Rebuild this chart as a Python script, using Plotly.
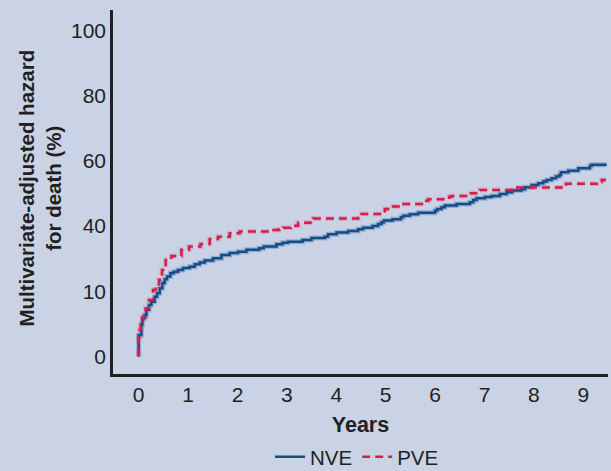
import plotly.graph_objects as go

# Step-curve data (years, hazard on the drawn linear scale)
nve_years = [0, 0, 0.055, 0.075, 0.122, 0.156, 0.209, 0.257, 0.324, 0.371, 0.425, 0.480,
             0.527, 0.573, 0.642, 0.709, 0.796, 0.897, 1.033, 1.134, 1.236, 1.337, 1.505,
             1.675, 1.843, 2.011, 2.181, 2.437, 2.532, 2.789, 2.911, 3.024, 3.316, 3.498,
             3.767, 3.834, 4.005, 4.240, 4.442, 4.543, 4.734, 4.847, 4.916, 4.963, 5.139,
             5.307, 5.354, 5.489, 5.657, 5.996, 6.042, 6.131, 6.198, 6.435, 6.705, 6.771,
             6.840, 7.008, 7.144, 7.312, 7.448, 7.561, 7.752, 7.819, 7.954, 8.088, 8.189,
             8.258, 8.359, 8.446, 8.513, 8.548, 8.696, 8.898, 9.135, 9.170, 9.473]
nve_hazard = [0, 6.6, 9.7, 11.7, 12.7, 14.3, 15.8, 16.8, 18.3, 19.4, 20.9, 22.5,
              23.7, 24.5, 25.5, 26.0, 26.5, 27.1, 27.5, 28.3, 28.8, 29.4, 30.1,
              31.1, 31.7, 32.1, 32.7, 33.2, 33.7, 34.4, 34.9, 35.2, 35.7, 36.3,
              36.7, 37.5, 38.0, 38.5, 39.0, 39.5, 40.0, 40.6, 41.2, 41.7, 42.1,
              42.7, 43.2, 43.6, 44.1, 44.7, 45.2, 45.8, 46.3, 46.8, 47.3, 48.0,
              48.5, 48.9, 49.2, 49.8, 50.4, 50.9, 51.3, 51.9, 52.6, 53.1, 53.7,
              54.1, 54.7, 55.2, 55.7, 56.5, 57.0, 57.7, 58.5, 58.8, 58.8]

pve_years = [0, 0, 0.020, 0.041, 0.087, 0.142, 0.209, 0.290, 0.344, 0.411, 0.472, 0.547,
             0.662, 0.865, 1.019, 1.250, 1.438, 1.606, 1.843, 2.046, 2.688, 2.842, 2.923,
             3.079, 3.126, 3.227, 3.478, 3.531, 4.442, 4.511, 4.916, 4.983, 5.119, 5.151,
             5.287, 5.759, 5.860, 6.285, 6.334, 6.690, 6.907, 7.616, 8.649, 9.271, 9.372,
             9.46]
pve_hazard = [0, 6.1, 8.1, 9.7, 12.2, 14.8, 17.3, 20.4, 21.6, 23.5, 26.5, 29.6,
              30.8, 32.7, 33.7, 34.5, 36.0, 36.7, 37.8, 38.3, 38.8, 39.0, 39.5,
              39.8, 40.1, 41.0, 41.6, 42.3, 43.2, 43.7, 44.1, 45.2, 45.5, 46.0,
              46.8, 47.8, 48.2, 49.0, 49.2, 50.1, 51.1, 51.8, 53.0, 53.6, 54.1,
              54.1]

y_tick_vals = [0, 20, 40, 60, 80, 100]
y_tick_text = ["0", "10", "40", "60", "80", "100"]
x_tick_vals = [0, 1, 2, 3, 4, 5, 6, 7, 8, 9]

blue = "#174c84"
red = "#d51f4b"
ink = "#231f20"
bg = "#c9d3e5"
dash = "8px,5px"

fig = go.Figure()
# soft halos under the curves
fig.add_trace(go.Scatter(x=nve_years, y=nve_hazard, mode="lines", line_shape="hv",
                         line=dict(color="rgba(100,140,195,0.5)", width=5),
                         showlegend=False, hoverinfo="skip"))
fig.add_trace(go.Scatter(x=pve_years, y=pve_hazard, mode="lines", line_shape="hv",
                         line=dict(color="rgba(215,120,150,0.4)", width=5, dash=dash),
                         showlegend=False, hoverinfo="skip"))
fig.add_trace(go.Scatter(x=nve_years, y=nve_hazard, mode="lines", line_shape="hv",
                         name="NVE", line=dict(color=blue, width=2.5)))
fig.add_trace(go.Scatter(x=pve_years, y=pve_hazard, mode="lines", line_shape="hv",
                         name="PVE", line=dict(color=red, width=2.5, dash=dash)))

font_family = "Liberation Sans, Arial, Helvetica, sans-serif"
fig.update_layout(
    width=611, height=471,
    paper_bgcolor=bg, plot_bgcolor=bg,
    margin=dict(l=113, r=3, t=10, b=97, autoexpand=False),
    font=dict(family=font_family, size=21, color=ink),
    showlegend=True,
    legend=dict(orientation="h", x=0.493, xanchor="center",
                yref="container", y=0.03, yanchor="middle",
                bgcolor="rgba(0,0,0,0)", font=dict(size=20.5, color=ink),
                itemwidth=30, tracegroupgap=0),
    xaxis=dict(range=[-0.52, 9.50], tickvals=x_tick_vals, showgrid=False, zeroline=False,
               showline=True, linecolor=ink, linewidth=2.5, ticks="",
               ticklabelstandoff=0, automargin=False, tickfont=dict(size=21),
               title=dict(text="<b>Years</b>", standoff=12, font=dict(size=21.5, color=ink))),
    yaxis=dict(range=[-5.4, 106.3], tickvals=y_tick_vals, ticktext=y_tick_text,
               showgrid=False, zeroline=False, showline=True, linecolor=ink, linewidth=2.5,
               ticks="", ticklabelstandoff=0, automargin=False, tickfont=dict(size=21)),
    annotations=[dict(text="<b>Multivariate-adjusted hazard<br>for death (%)</b>",
                      textangle=-90, xref="paper", yref="paper",
                      x=-0.1475, y=0.512, xanchor="center", yanchor="middle",
                      showarrow=False, font=dict(size=20.5, color=ink))],
)

fig.write_html("out.html",
               config={"displayModeBar": False},
               post_script="document.body.style.margin='0';"
                           "document.body.style.background='#c9d3e5';")
